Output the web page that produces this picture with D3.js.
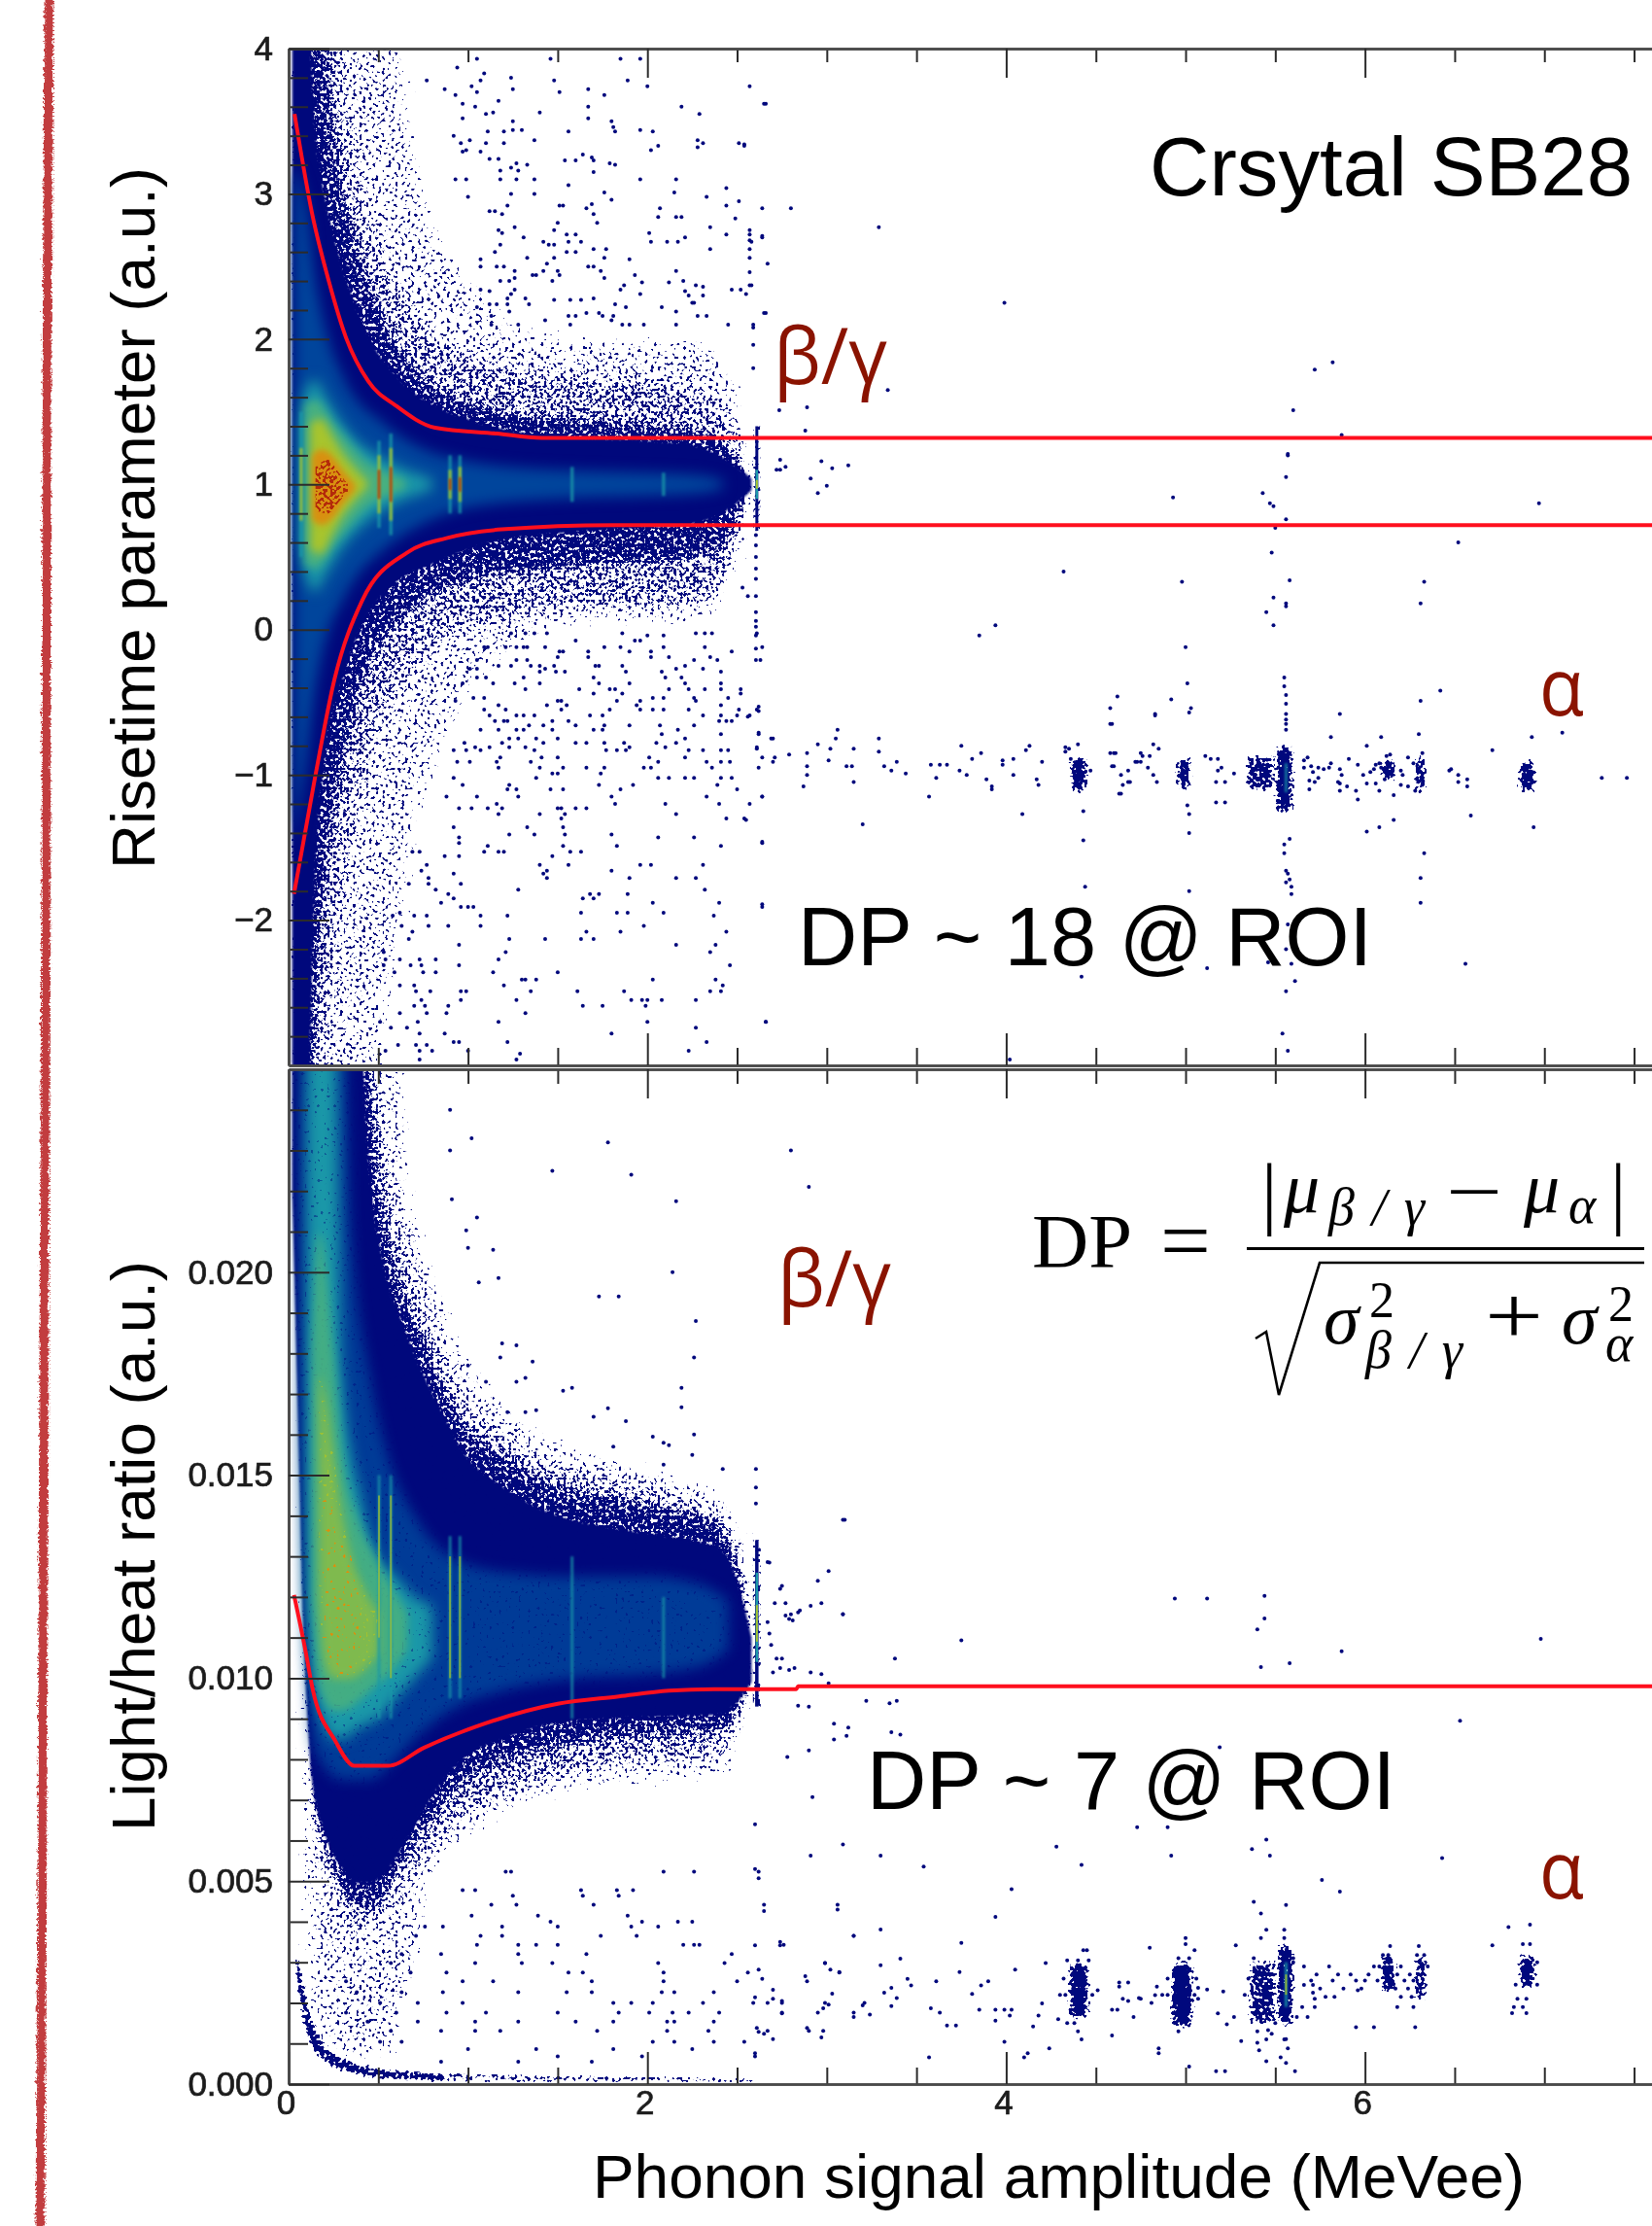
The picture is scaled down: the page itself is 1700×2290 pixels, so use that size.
<!DOCTYPE html>
<html><head><meta charset="utf-8">
<script src="https://cdnjs.cloudflare.com/ajax/libs/d3/7.8.5/d3.min.js"></script>
<style>html,body{margin:0;padding:0;background:#fff}svg{display:block}</style></head>
<body><svg id="c" width="1700" height="2290"></svg>
<script>
// ---- axis labels ----
const xMajor=[0,2,4,6], xMinor=[.5,1,1.5,2.5,3,3.5,4.5,5,5.5,6.5,7,7.5];
const xLabels=["0","2","4","6"];
const uMajor=[4,3,2,1,0,-1,-2];
const uMinor=[3.8,3.6,3.4,3.2,2.8,2.6,2.4,2.2,1.8,1.6,1.4,1.2,.8,.6,.4,.2,-.2,-.4,-.6,-.8,-1.2,-1.4,-1.6,-1.8,-2.2,-2.4,-2.6,-2.8];
const uLabels=["4","3","2","1","0","\u22121","\u22122"];
const lMajor=[0,5,10,15,20];
const lMinor=[1,2,3,4,6,7,8,9,11,12,13,14,16,17,18,19,21,22,23,24];
const lLabels=["0.000","0.005","0.010","0.015","0.020"];

// ---- upper panel: envelopes of the population (x in MeVee) ----
const uX=[.02,.1,.15,.2,.3,.4,.5,.6,.7,.8,1,1.2,1.4,1.8,2.2,2.4,2.5,2.58];
const uSparseTop=[4.4,4.4,4.4,4.4,4.4,4.4,4.4,4.4,3.6,3,2.5,2.2,2.08,2.05,2.05,2,1.8,1.4];
const uSparseBot=[-3.4,-3.4,-3.4,-3.4,-3.4,-3.4,-3.4,-2.6,-1.7,-1.2,-.5,-.25,-.05,0,0,.05,.3,.7];
const uMedTop=[4.4,4.4,4.4,4.4,4.4,3.4,2.8,2.5,2.25,2.1,1.95,1.88,1.85,1.8,1.75,1.65,1.5,1.2];
const uMedBot=[-3.4,-3.4,-3.4,-3.4,-2.4,-1.4,-.9,-.55,-.35,-.2,-.05,0,.05,.1,.12,.2,.4,.8];
const uDenseTop=[4.4,4.4,4.4,4.4,3.2,2.7,2.3,2.05,1.85,1.72,1.6,1.54,1.5,1.46,1.42,1.35,1.25,1.1];
const uDenseBot=[-3.4,-3.4,-3.4,-2.2,-1.1,-.55,-.2,0,.1,.2,.3,.35,.38,.42,.45,.52,.65,.9];
const uSolidTop=[4.4,4.4,3.4,3,2.5,2.15,1.9,1.75,1.63,1.55,1.45,1.38,1.34,1.31,1.28,1.2,1.12,1.04];
const uSolidBot=[-3.4,-3.4,-1.6,-.9,-.35,0,.2,.33,.4,.45,.55,.62,.65,.69,.72,.79,.87,.96];
const uBlueX=[.03,.1,.15,.2,.3,.4,.5,.6,.8,1,1.5,2,2.3,2.42];
const uBlueTop=[3.2,2.9,2.4,2.1,1.75,1.55,1.45,1.35,1.22,1.16,1.1,1.08,1.06,1.03];
const uBlueBot=[-1.5,-.9,-.4,-.1,.2,.4,.52,.62,.76,.84,.9,.92,.94,.97];
const uTealX=[.06,.1,.15,.2,.3,.4,.5,.6,.7,.8];
const uTealTop=[1.4,1.67,1.72,1.62,1.42,1.28,1.2,1.13,1.08,1.04];
const uTealBot=[.6,.34,.26,.36,.56,.7,.8,.87,.92,.96];
const uGreenX=[.09,.15,.25,.35,.45,.55,.65];
const uGreenTop=[1.55,1.58,1.42,1.27,1.14,1.08,1.03];
const uGreenBot=[.45,.42,.58,.73,.86,.92,.97];
const uYellowX=[.12,.18,.25,.3,.35,.4,.44];
const uYellowTop=[1.42,1.45,1.32,1.22,1.14,1.07,1.02];
const uYellowBot=[.55,.52,.67,.78,.86,.93,.98];
const uOrangeX=[.13,.18,.24,.3,.37];
const uOrangeTop=[1.2,1.24,1.2,1.1,1];
const uOrangeBot=[.76,.72,.76,.86,.96];
const uRedX=[.15,.22,.28,.33];
const uRedTop=[1.12,1.17,1.08,1];
const uRedBot=[.82,.8,.88,.95];

// ---- spectral lines (x, half heights of the teal / yellow / red parts) ----
const lineX=[.07,.504,.57,.9,.955,1.58,2.09];
const uLineTeal=[.5,.3,.35,.2,.2,.12,.08];
const uLineYellow=[.25,.2,.25,.1,.12,0,0];
const uLineRed=[0,.1,.12,.04,.05,0,0];
const gammaX=2.61;
const uGammaNavy=[1.4,.68], uGammaTeal=[1.1,.9], uGammaYellow=[1.03,.97];

// ---- red cut lines ----
const uCutTopX=[.033,.13,.226,.32,.444,.6,.816,1.16,1.41,7.6];
const uCutTopY=[3.55,2.87,2.39,2.01,1.71,1.54,1.39,1.35,1.32,1.32];
const uCutBotX=[.03,.147,.256,.41,.66,.88,1.19,1.81,7.6];
const uCutBotY=[-1.82,-1.02,-.34,.2,.53,.63,.69,.72,.72];
const lCutX=[.03,.096,.134,.258,.367,.553,.756,1.035,1.5,1.84,2.12,2.37,2.83,2.84,7.6];
const lCutY=[12.05,10.63,9.73,8.47,7.84,7.84,8.29,8.79,9.37,9.55,9.69,9.73,9.73,9.8,9.8];

// ---- alpha cluster cores [x0,x1,y0,y1] ----
const uCoresDense=[[4.36,4.45,-1.12,-.87],[4.95,5.03,-1.1,-.87],[5.5,5.6,-1.26,-.8],[6.09,6.17,-1.04,-.89],[6.28,6.34,-1.12,-.87],[6.86,6.95,-1.12,-.9]];
const uCoresMed=[[5.33,5.5,-1.12,-.86]];
const lCoresDense=[[4.35,4.46,1.6,3],[4.92,5.04,1.4,3],[5.51,5.6,1.45,3.45],[6.09,6.17,2.25,3.2],[6.28,6.34,2.05,3.2],[6.86,6.95,2.35,3.2]];
const lCoresMed=[[5.35,5.51,1.45,3.05]];

// ---- individual events, upper panel: rows of [y, x, x, ...] ----
const uRows=[
[3.93,1.05,1.46,1.85,1.96],[3.87,.94],[3.83,1.09],[3.8,1.24],[3.78,1.07,1.48,1.89,.77],[3.74,1.02,2,2.57],[3.72,1.25,1.67,.87],[3.7,1.05,1.51],[3.68,1.76,.93],[3.64,1.17],[3.62,.97,2.66,2.65],[3.6,2.19,1.04,1.67],[3.56,1.14,1.4],[3.55,1.1,2.29],[3.52,1.67,.97],[3.5,1.25,1.8],[3.46,1.81],[3.44,1.25,1.3,1.96],[3.43,1.11,1.2,1.56,1.82,2.03],[3.4,.92],[3.37,2.28,1.01,1.37],[3.35,.96,1.1,1.2,2.31,2.51],[3.34,2.54],[3.33,2.06,2.54],[3.32,2.28],[3.3,2.02,.99],[3.29,1.07,.97],[3.27,1.64],[3.25,1.69],[3.24,1.12,1.17],[3.23,1.54,1.6,1.7],[3.21,1.27,1.79],[3.2,1.33,1.82],[3.18,1.24],[3.16,1.18,1.28],[3.15,1.7],[3.1,1.18,1.27,1.37,1.96,2.16,.93,.99],[3.06,1.56],[3.04,2.44],[3.01,1.76,2.15],[3,1.24,1.37],[2.98,1,2.33],[2.96,1.8],[2.95,2.51],[2.93,1.69],[2.92,1.51,1.53,2.44,1.22],[2.9,1.66,2.07,2.64,2.8],[2.88,1.12,1.15],[2.86,1.19,1.7],[2.84,2.06,2.16,2.19],[2.83,2.49],[2.8,1.5,1.72],[2.77,1.26,2.35,3.29],[2.75,1.17,1.48,2.57],[2.73,1.19,2.01],[2.72,1.55,1.6,2.57,2.44],[2.71,2.64],[2.7,1.31,2.21,2.64],[2.68,2.57],[2.67,1.42,1.56,1.63,2.11,2.02,2.17,2.58],[2.65,1.18,1.48,1.45],[2.62,1.7,1.77,2.35,2.57],[2.6,1.15,1.55,1.6],[2.56,1.33,1.48,1.76,2.57],[2.55,1.07,1.9],[2.52,1.44,2.67],[2.5,1.07,1.16,1.67,1.7,1.2],[2.47,1.26,1.42,1.5,1.74,2.16],[2.46,2.57],[2.44,1.36,1.51,1.93,1.38],[2.42,1.76,1.26],[2.4,1.18,1.47,1.23,2.2],[2.39,1.97,2.12],[2.37,1.87,2.58,2.27,2.57],[2.36,2.31],[2.34,1.07,1.85,2.47,2.52,1.26],[2.33,1.12,2.21],[2.31,1.96,2.55,1.24],[2.3,2.23,2.31],[2.28,1.7,1.22,1.32],[2.27,1.48,1.57,1.63],[2.25,2.25,2.26,3.99],[2.24,1.12,1.16,1.34,1.82,1.22],[2.22,1.88,2.08,1.05],[2.19,2.16,1.23],[2.18,2.66,1.73,1.66,2.65],[2.16,1.56,2.28,2.33,1.6,1.13,1.75,1.81],[2.13,1.43,1.8],[2.1,1.13,1.86,1.9,1.98,2.16,2.45,2.59,1.57,1.28],[2.08,2.59],[1.96,2.59],[1.84,5.82],[1.8,2.59],[1.79,5.72],[1.65,3.34],[1.53,2.89],[1.51,2.735,5.6],[1.37,2.88],[1.34,5.87],[1.21,5.57],[1.2,5.57],[1.17,2.74],[1.16,2.97],[1.13,3.12],[1.12,2.77],[1.11,3.03],[1.1,2.74,2.72],[1.05,5.56],[1.04,2.91],[.99,3],[.94,2.95,5.43],[.91,4.93],[.87,5.47,6.97],[.85,5.49],[.76,5.56],[.7,5.5],
[.65,2.605],[.6,6.52],[.58,2.605],[.53,5.48],[.5,2.605],[.42,2.605],[.4,4.32],[.35,2.605],[.34,5.58],[.33,4.98,6.33],[.29,2.53],[.23,2.605,2.56],[.22,5.49],[.18,5.56,6.31],[.16,5.56],[.12,2.605,5.45],[.06,2.605],[.03,3.94,5.49],[.02,2.605],[-.04,2.605,3.85],[-.12,5],[-.13,2.605],
[-.025,1.24,1.32,1.37,1.44,1.86,2.27,2.32,2.36,2.61],[-.076,1.6,1.96,1.93],[-.04,2,2.09],[-.12,1.09,1.11,1.21,1.27,1.31,1.33,1.43,1.76,1.85,2.09,2.32,2.64],[-.15,1.67,2.02,1.53,1.9,2.47,1.51],[-.19,1.5,1.67,2.35,2.02,2.12],[-.21,1.05,2.26,2.39,2.63,1.27,1.33,2.605],[-.25,1.17,1.24,1.35,1.4,1.48,1.71,1.73,1.86,2.21],[-.27,1.01,1.05,1.43,2.31,2.16],[-.29,1.4,1.49,1.54,1.88,2.08,2.41],[-.33,1.1,1.05,1.31,1.7,2.1,2.19,5.55],[-.37,1.14,.97,1.26,1.4,1.73,1.9,2.41,2.21,5.01],[-.39,5.55],[-.41,1.32,1.62,1.79,1.82,2.12,2.23,2.32,2.41,2.52],[-.42,6.42],[-.44,1.7,1.86,2.52],[-.45,5.56],[-.46,4.62],[-.47,1.03,1.09,2.09,2.26,2.45,2.03],[-.48,4.92],[-.49,.93,1.96,1.83,1.5,1.52,2.27,6.31],[-.51,5.56],[-.52,1.17,1.44,1.55,1.94,2.41],[-.53,2.62],[-.54,5.03,4.58],[-.55,1.09,1.21,1.52,1.96,2.03,2.09,2.51,2.61,1.79,2.23],[-.56,2.62],[-.57,5.02],[-.58,4.83,5.86,5.56],[-.59,1.12,1.27,1.31,1.37,1.68,1.75,2.31,2.41,2.5,2.57,4.83],[-.6,2.56],[-.62,5.56],[-.63,1.15,1.22,1.2,1.47,1.56,2.4,2.44,2.47],[-.65,4.59,5.56,4.58],[-.66,1.34,1.42,1.6,1.9,1.76,2.26,2.07],[-.69,1.07,1.17,1.27,1.31,1.47,1.7,1.75,2.17,3.06,5.56],[-.71,2.62,7.1],[-.72,2.41,2.62,2.08,6.3],[-.74,5.81,6.09,6.93],[-.75,1.23,1.28,1.38,1.5,2.21,2.7,2.69,3.05,3.29],[-.78,.98,1.19,1.42,1.6,1.66,1.76,1.87,2.05,2.16],[-.79,2.95,4.82,4.4],[-.8,3.75,4.13,6.01],[-.81,1.04,1.12,1.23,1.32,1.9,2.1,2.61,4.33],[-.82,2.61,3.02,3.15,4.85,4.35],[-.83,.92,.99,1.07,1.37,1.77,1.83,1.88,2.31,2.41,2.23,2.45,4.11,6.71],[-.84,3.29,4.33],[-.85,2.89,3.86,4.6,4.61,4.75,4.58,6.32],[-.86,2.79,6.14],[-.87,5.11,4.76,4.8,6.12],[-.88,1.18,1.41,1.5,2.01,2.21,2.64,2.71,5.68,6.24],[-.89,3.81,4.04,5.14,5.18,4.36,5.91],[-.9,3.01,3.98,5.66],[-.91,.94,1.01,1.16,1.35,2.06,2.33,2.41,2.46,2.7,3.39,4.2,4.73,4.72,4.75],[-.92,5.81,6.08,6.27],[-.93,3.58,3.63,3.67,3.98,5.96,6.06],[-.94,2.89,3.11,3.14,3.32,4.6,4.59,5.7],[-.95,1.17,1.53,1.66,1.76,1.98,2.02,2.36,2.62,1.4,4.79,5.2,5.74,5.66,5.8,6.09],[-.96,5.86,6.05,6.48,5.77],[-.97,3.36,3.74,5.18,4.47,4.68,6.47,6.2],[-.98,6.15,6.31,5.71,6.03],[-.99,1.5,1.74,1.47,3.44,5.27],[-1,2.89,3.78,4.04,4.64,4.82,6.52,6.21,5.99,6.13,5.87],[-1.02,.92,1.38,2.06,2.21,2.26,2.41,2.47,2.12,3.61,7.32,7.46,5.74],[-1.03,3.89,4.17,6.57,6.11,6.29],[-1.04,5.69],[-1.05,3.15,4.68,4.84,5.17,5.22,6.52,4.69,5.72,5.85],[-1.06,6.01,6.06,5.86],[-1.07,1.23,1.73,1.92,.97,2.39,4.18,4.65,6.32,6.2],[-1.08,2.87,3.92,6.57,5.9,6.24],[-1.1,1.22,1.27,1.46,1.53,1.85,2.5,3.92,5.69],[-1.11,5.86,5.95,6.08,6.28],[-1.13,4.63,4.64],[-1.14,6.16],[-1.15,.88,1.28,1.8,1.05,2.64,2.33,2.64,3.57],[-1.17,5.96],[-1.19,5.17,5.22],[-1.2,1.16,2.1,1.82,2.4,2.57],[-1.21,5.01],[-1.23,.95,1.02,1.11,1.19,1.5,1.6,1.66,1.52],[-1.25,4.43],[-1.27,1.17,1.4,1.54,2.16,5.02,4.09],[-1.28,6.59],[-1.3,1.52,2.44,2.54],[-1.31,2.55,6.16],[-1.34,3.2],[-1.36,.92,1.33,1.53,6.08,6.94],[-1.39,6.01],[-1.4,5.02],[-1.41,1.23,1.37,1.8,1.54],[-1.43,.95,2.06,2.26],[-1.44,5.58],[-1.45,4.43],[-1.46,2.64],[-1.47,2.64,.95],[-1.48,5.55],[-1.49,1.11,1.53,1.83,2.41],[-1.53,.69,.73,1.09,1.17,1.2,1.57,1.63],[-1.54,5.55,6.33],[-1.56,.87,.95,1.47],[-1.62,.77,1.4,1.56,1.96,2.02,2.31],[-1.66,.74,1.44,1.8,5.56],[-1.68,.92,1.42,5.57],[-1.71,1.44,.78,1.9,2.16,2.27,6.31],[-1.72,5.58],[-1.74,5.56],[-1.75,.67,.96,.78],[-1.77,4.44,5.59],[-1.79,1.28,2.32,.82],[-1.8,5.02],[-1.82,.89,1.68,1.89,1.73,5.59],[-1.85,1.64,1.7,.92],[-1.88,.85,2.03,2.4,6.31],[-1.89,2.64],[-1.91,.96,1,1.03,2.64],[-1.95,.62,2.09,1.63,1.89,1.83],[-1.97,.58,.7,.77,1.07,1.22,2.37],[-2.03,5.57],[-2.04,.89,.63,.78,1.07,1.98],[-2.08,.69,1.66,2.44,1.85],[-2.13,.67,1.23,1.43,1.63,1.7],[-2.17,2.16,2.38,.95],[-2.2,5.56],[-2.22,1.21,2.35,.53],[-2.27,.73,.82,.54,.62,1.17],[-2.29,5.46],[-2.3,5.59,6.56],[-2.31,2.46,.68,.95,.53,.74],[-2.33,5.12],[-2.36,1.14,.82,1.5,.75,.59],[-2.39,4.42],[-2.41,1.3,1.32,1.38,2.03,2.38],[-2.42,5.61],[-2.45,.62,1.2,2.42,.7],[-2.49,1.61,2.35,2.41,.71,.79,.96,.99,1.35,1.87,5.56],[-2.55,1.91,1.97,2,2.08,2.27,.74,.96,1.27],[-2.59,1.64,1.99,.7,.76,.89,1.75],[-2.64,1.32,.88,.77,.62],[-2.7,2,2.66,.72,1.17,.51,2.66],[-2.74,.66,.57,2.27],[-2.78,.73,.87,1.8,5.54],[-2.84,1.22,2.33,.92,.95],[-2.86,.61,.71,.77],[-2.9,2.23,.8,.54,1,.73,5.57],[-2.92,1.29],[-2.96,.73,1.27,4.02]
];

// ---- individual events, lower panel (y in units of 0.001): rows of [y, x, x, ...] ----
const lRows=[
[24,.9],[23.3,1.02],[23.2,1.78],[23,.9,2.8],[22.5,1.47],[22.4,1.91],[22.1,2.9],[21.8,.91],[21.75,2.16],[21.35,1.05],[21.03,.99],[20.6,1],[20.55,1.14],[20,2.14],[19.86,1.17],[19.75,1.06],[19.4,1.73,1.84],[18.8,2.27],[18.25,1.19],[18.2,1.27],[17.9,1.18,2.26],[17.8,1.36],[17.7,1],[17.4,1.32],[17.3,1.27,1.1],[17.15,1.58,2.19],[17.08,1.53],[16.67,2.19],[16.65,1.78],[16.6,1.38],[16.55,1.22,1.32],[16.44,1.7],[16.33,1.88],[16,2.26],[15.95,2.03],[15.8,2.09],[15.74,2.12],[15.7,1.81],[15.5,2.25],[15.26,2.09],[15.15,2.42,2.605],[14.7,2.605],[14.3,2.605],[13.9,3.1,3.09],[12.86,2.67],[12.85,2.68],[12.64,3.01],[12.4,2.95],[12.27,2.75],[12.2,2.74],[12.03,5.44],[11.96,4.94,5.12],[11.85,2.71,2.77,2.97],[11.78,2.91],[11.67,2.85],[11.62,2.84],[11.58,3.09],[11.57,2.8,3.09],[11.54,2.77],[11.47,5.44],[11.46,2.79],[11.42,2.81],[11.38,2.67],[11.2,5.4],[11.1,2.68],[10.97,6.98],[10.93,3.75],[10.82,2.69],[10.66,5.87],[10.48,2.72,2.75,3.38],[10.37,5.58],[10.27,5.42],[10.25,2.74,2.82],[10.2,2.79],[10.14,2.7,2.91],[10.1,2.97],[9.87,3.01],
[9.44,3.22,3.39],[9.38,3.35],[9.32,2.84],[9.3,2.9],[8.95,6.53],[8.88,3.04],[8.78,3.12],[8.67,3.36],[8.61,3.41],[8.58,3.11],[8.49,3.04],[8.3,5.19],[8.22,2.9],[8.06,2.78],[7.07,2.92],[6.4,2.6],[6.33,4.73,4.9],[6.02,5.45],[5.9,3.09],[5.85,4.28],[5.79,5.37],[5.63,2.91,3.3,4.92,5.47],[5.57,6.43],[5.4,4.42],[5.36,3.54],[5.3,2.6],[5.23,2.09,2.26,2.62,1.21,1.24],[5.07,2.62],[5.03,5.76],[4.8,4.03],[4.78,.97,1.04,1.63,1.83,1.92],[4.74,5.86],[4.64,1.25,1.64,1.84],[4.49,5.38],[4.42,1.13,1.27,1.7,3.06,2.65],[4.41,5.56],[4.3,3.06],[4.26,2.65],[4.2,5.42],[4.15,1.02,1.39,1.89],[4.12,3.94],[4,1.46,2.17,2.25,1.97],[3.93,6.92],[3.88,.86,.76,1.19,1.5,2.06,1.91],[3.87,6.8],[3.81,3.3],[3.65,.71,1.07,1.19,3.15,1.74,1.94,3.15],[3.5,2.74],[3.48,3.75],[3.43,1.05,1.28,1.38,1.5,2.2,2.29,2.76,2.26],[3.42,2.6,2.74,6.71,5.28],[3.36,4.8],[3.2,.63,.85,1.28,1.66,2.47],[3.09,3.41],[2.98,.57,1.04,1.3,1.47,2.06,2.99,2.43,2.99,4.22],[2.93,3.3],[2.82,3.02,2.62,4.05],[2.76,3.07,3.74],[2.75,.68,.88,1.56,1.64,2.09,2.56,3.07],[2.66,2.88],[2.59,2.64,3.45],[2.53,.32,.97,1.14,1.69,2.09,2.89,2.5,3.61,3.9],[2.5,4.68,4.63],[2.44,5.66,5.71],[2.43,3.47,3.86],[2.4,4.63,4.84],[2.37,3.36,5.07],[2.33,5.12],[2.32,2.7],[2.31,4.51,5.96],[2.28,5.21],[2.26,.38,.63,.86,1.28,1.55,1.69,2.08,2.15,2.37],[2.25,3.32,5.71],[2.23,3.03],[2.22,3.81],[2.19,4.83],[2.14,2.6],[2.12,3.39,4.74],[2.1,2.7,4.65,4.75,5.07,5.72],[2.05,2.75,4.68],[2,.51,.72,.97,1.81,1.91,2.03,2.31,2.59,2.67,2.75,2.99,3.21,4.81],[1.99,4.2],[1.96,3.01],[1.94,3.2],[1.92,3.36],[1.87,3.58,2.98],[1.83,3.85,3.94,3.99,4.03,4.59,4.62],[1.76,.32,.6,.88,1.1,1.5,1.84,2.01,2.14,2.23,2.4,2.75,3.15,2.95,3.63],[1.74,2.75,5.18],[1.71,3.24],[1.69,4.02,4.18],[1.65,3.15,4.71,5.27],[1.6,4.29],[1.56,3.94],[1.54,.44,.72,1.04,1.28,1.6,1.81,2.11,2.37,2.15],[1.47,5.23],[1.44,3.67,3.72],[1.42,4.15],[1.38,2.89,2.61],[1.33,5.46],[1.31,.57,.85,1.04,1.18,1.72,2.11,2.34,2.67,2.9,2.98],[1.29,2.62],[1.24,2.65,5.48],[1.2,4.59],[1.15,2.97],[1.11,2.7,5.56],[1.06,5.31],[1.04,.63,.51,2.03,2.15,2.37,2.54,3.99],[1.02,5.4],[.88,4.24,4.85,5.57],[.86,1.38,1,2.25,1.81],[.83,5.41],[.76,2.6,4.12,4.85],[.68,1.97,1.5,2.6],[.66,3.57,4.1,5.53],[.56,5.45],[.55,.85,1.28,1.69],[.52,5.56],[.43,5.02],[.32,5.17,5.22,5.61],
[3.18,6.1,6.13,6.29,6.33],[3.4,6.14,6.3],[2.9,5.66,5.8,6.05,6.08,6.2,6.35],[2.7,5.73,5.85,5.92,6.02,6.18,6.25],[2.55,5.7,5.82,5.95,6,6.07,6.22,6.27],[2.35,5.75,5.88,5.98,6.17,6.24],[2.15,5.78,5.83,6.2,6.26],[1.9,5.65,5.72,6.18,6.27],[1.65,5.68,5.62],[1.4,5.95,6.05,6.28],[3.05,4.34,4.4,4.46],[3.3,4.43,4.45,5.05],[3.6,5.42,5.55],[3.8,5.55,5.45],[1.5,4.38,4.34,4.94,5.5],[1.3,4.4,4.96,5.4],[1.1,4.42,5.45,5.55],[2.2,4.3,4.33,4.48,4.87,4.9,5.05,5.33],[2.6,4.32,4.9,5.06,5.35],[3.1,4.96,5.02,5.38,5.6],[3.6,5],[3.45,5,6.88,6.92],[3,5.6,6.96],[2.45,6.84,6.96],[2.1,6.9,6.85],[1.9,6.88,6.83],[1.75,6.82,6.9]
];

// ---- lower panel envelopes ----
const lX=[.02,.04,.06,.08,.1,.13,.2,.3,.38,.45,.54,.63,.72,.85,.97,1.2,1.5,1.8,2.1,2.4,2.5,2.58];
const lSparseTop=[27,27,27,27,27,27,27,27,27,27,27,27,22,20,18.5,17,16,15.6,15.2,14.8,14.3,13.4];
const lSparseBot=[27,6,4,2,1.4,1,.7,.5,.4,.4,.5,.8,2.5,5.2,5.8,6.5,7,7.2,7.3,7.4,7.8,8.8];
const lMedTop=[27,27,27,27,27,27,27,27,27,27,24,22,20.5,18.6,17.3,16.2,15.4,15.1,14.8,14.4,13.7,12.8];
const lMedBot=[27,22,18,12,8,5.5,4.8,3.8,3.6,3.6,3.9,4.5,5,5.7,6.3,6.9,7.4,7.7,7.8,7.9,8.3,9];
const lDenseTop=[27,27,27,27,27,27,27,27,27,27,22,20,19,17.6,16.5,15.6,14.9,14.6,14.3,14,13.2,12];
const lDenseBot=[27,21,17,12,9,6.5,5.6,4.5,4.2,4.2,4.5,5.2,5.8,6.6,7.3,7.8,8.2,8.4,8.5,8.6,8.9,9.5];
const lSolidTop=[27,27,27,27,27,27,27,27,27,22.5,20,18.8,17.8,16.6,15.6,14.7,14,13.7,13.5,13.2,12.4,11];
const lSolidBot=[22,18.5,15,11.5,9.5,7.5,6.2,5.3,4.95,4.95,5.2,5.8,6.5,7.4,8,8.5,8.9,9,9.05,9.1,9.4,9.9];
const lBlueX=[.06,.1,.15,.3,.35,.45,.55,.7,.9,1.2,1.6,2,2.3,2.45];
const lBlueTop=[27,27,27,27,21,17.5,15.5,14,13,12.6,12.5,12.5,12.3,11.9];
const lBlueBot=[16,10.5,8.2,7.5,7.5,7.5,7.8,8.5,9.2,9.7,10,10.1,10.3,10.7];
const lTealX=[.1,.12,.2,.25,.3,.4,.5,.6,.7,.8];
const lTealTop=[24,27,27,27,17.5,14.5,13,12.5,12,11.8];
const lTealBot=[12,10.5,8.8,8.5,8.5,8.8,9,9.5,10,10.5];
const lGreenX=[.13,.17,.25,.3,.38,.48,.58,.66];
const lGreenTop=[18,21,18,15.5,14,13,12.2,11.6];
const lGreenBot=[12,9.8,9.2,9.2,9.4,9.8,10.2,10.7];
const lYellowX=[.17,.2,.25,.3,.35,.42,.5];
const lYellowTop=[17.5,17,15.5,14,13,12.2,11.6];
const lYellowBot=[12,10.4,10,10,10,10.2,10.6];
const lOrangeX=[.19,.25,.3,.35,.4];
const lOrangeTop=[14.5,14.2,13.5,13,12];
const lOrangeBot=[11,10.2,10,10.2,10.8];
const lBackX=[.03,.05,.08,.12,.16,.2,.26,.33,.4,.5,.6,.75,.88];
const lBackTop=[3.6,3.2,2.6,1.75,1.3,1,.75,.6,.5,.4,.35,.3,.25];
const lBackBot=[3,2.3,1.6,.95,.7,.55,.38,.28,.2,.15,.1,.08,.05];
const lBackTailX=[.88,1.2,1.6,2,2.4,2.6];
const lBackTailTop=[.3,.26,.22,.2,.18,.16];
const lBackTailBot=[.04,.04,.04,.04,.04,.04];
const lLineTop=[14,15,15,13.5,13.5,13,12];
const lLineBot=[9.5,9,9,9.5,9.5,9,10];
const lLineYellow=[[0,0],[11,14.5],[10,14.5],[10,13],[10,13],[0,0],[0,0]];
const lGammaNavy=[9.3,13.4], lGammaTeal=[10.4,12.6], lGammaYellow=[10.9,11.8];

// ---- colours ----
const navy="#00087c", blueC="#00459c", tealC="#1a98a8", greenC="#48b080", yellowC="#a8c42c", orangeC="#d89010", redC="#b42a0a", cutC="#ff0f1e", wine="#8a1300";

const W=1700,H=2290;
const svg=d3.select("#c");
const x=d3.scaleLinear().domain([0,7.6]).range([297,1700]);
const yU=d3.scaleLinear().domain([-3,4]).range([1096,50]);
const yL=d3.scaleLinear().domain([0,25]).range([2144,1100]);

// ---- filters ----
const defs=svg.append("defs");
function fbase(id){return defs.append("filter").attr("id",id).attr("filterUnits","userSpaceOnUse").attr("x",0).attr("y",0).attr("width",W).attr("height",H).attr("color-interpolation-filters","sRGB");}
function grain(id,t,seed){
  const f=fbase(id);
  f.append("feTurbulence").attr("type","fractalNoise").attr("baseFrequency",.3).attr("numOctaves",1).attr("seed",seed).attr("result","n");
  f.append("feColorMatrix").attr("in","n").attr("type","matrix").attr("values",`0 0 0 0 0 0 0 0 0 0 0 0 0 0 0 30 0 0 0 ${-30*t}`).attr("result","m");
  f.append("feComposite").attr("in","SourceGraphic").attr("in2","m").attr("operator","in").attr("result","g");
  f.append("feGaussianBlur").attr("in","g").attr("stdDeviation",.5);
}
// speckled navy whose density falls off smoothly across the edge of the drawn shape
function soft(id,sigma,w,seed){
  const f=fbase(id);
  f.append("feGaussianBlur").attr("in","SourceAlpha").attr("stdDeviation",sigma).attr("result","s");
  f.append("feTurbulence").attr("type","fractalNoise").attr("baseFrequency",.3).attr("numOctaves",1).attr("seed",seed).attr("result","n");
  f.append("feColorMatrix").attr("in","n").attr("type","matrix").attr("values","0 0 0 0 0 0 0 0 0 0 0 0 0 0 0 1 0 0 0 0").attr("result","na");
  f.append("feComposite").attr("in","na").attr("in2","s").attr("operator","arithmetic").attr("k1",0).attr("k2",1).attr("k3",w).attr("k4",0).attr("result","sum");
  f.append("feColorMatrix").attr("in","sum").attr("type","matrix").attr("values",`0 0 0 0 0 0 0 0 0 .03 0 0 0 0 .49 0 0 0 30 ${-30*.95}`).attr("result","t");
  f.append("feGaussianBlur").attr("in","t").attr("stdDeviation",.5);
}
grain("gS",.67,3);grain("gM",.6,7);grain("gD",.5,11);grain("gO",.57,5);
soft("sS",13,.35,21);soft("sM",12,.41,22);soft("sD",7,.52,23);soft("sC",5,.74,24);soft("sC2",5,.58,25);soft("sB",2.5,.62,26);soft("sT",1.5,.42,27);
function blur(id,s){fbase(id).append("feGaussianBlur").attr("stdDeviation",s);}
blur("b7",7);blur("b5",5);blur("b3",3);blur("b1",1.1);blur("b06",.6);blur("b03",.35);
const rough=fbase("rough");
rough.append("feTurbulence").attr("type","turbulence").attr("baseFrequency",.25).attr("numOctaves",2).attr("seed",4).attr("result","t");
rough.append("feDisplacementMap").attr("in","SourceGraphic").attr("in2","t").attr("scale",5).attr("xChannelSelector","R").attr("yChannelSelector","G");
defs.append("clipPath").attr("id","cu").append("rect").attr("x",297).attr("y",50).attr("width",1403).attr("height",1046);
defs.append("clipPath").attr("id","cl").append("rect").attr("x",297).attr("y",1100).attr("width",1403).attr("height",1044);

// ---- left hand-drawn margin stroke ----
const borderX=[49,47,46,44,42,40], borderY=[-5,400,900,1400,1900,2295];
svg.append("path").datum(d3.zip(borderX,borderY)).attr("d",d3.line()).attr("fill","none").attr("stroke","#c23d3f").attr("stroke-width",9).attr("filter","url(#rough)");

function band(g,xs,top,bot,y,fill,filt,op){
  const a=d3.area().x((d,i)=>x(xs[i])).y0((d,i)=>y(bot[i])).y1((d,i)=>y(top[i])).curve(d3.curveMonotoneX);
  const p=g.append("path").datum(xs).attr("d",a).attr("fill",fill);
  if(filt)p.attr("filter",`url(#${filt})`);
  if(op)p.attr("opacity",op);
  return p;
}
function rects(g,list,y,fill,filt){
  g.append("g").attr("filter",`url(#${filt})`).selectAll("rect").data(list).join("rect")
   .attr("x",d=>x(d[0])).attr("width",d=>x(d[1])-x(d[0])).attr("y",d=>y(d[3])).attr("height",d=>y(d[2])-y(d[3])).attr("fill",fill);
}
function vbar(g,xv,y0,y1,y,w,fill,filt,op){
  const r=g.append("rect").attr("x",x(xv)-w/2).attr("width",w).attr("y",y(y1)).attr("height",y(y0)-y(y1)).attr("fill",fill);
  if(filt)r.attr("filter",`url(#${filt})`);
  if(op)r.attr("opacity",op);
}
function dots(g,rows,y){
  const pts=rows.flatMap(r=>r.slice(1).map(v=>[v,r[0]]));
  g.append("g").attr("filter","url(#b03)").selectAll("circle").data(pts).join("circle")
   .attr("cx",d=>x(d[0])).attr("cy",d=>y(d[1])).attr("r",2).attr("fill",navy);
}
const redLine=(xs,ys,y)=>d3.line().x((d,i)=>x(xs[i])).y((d,i)=>y(ys[i])).curve(d3.curveMonotoneX)(xs);

// ---- upper panel ----
const u=svg.append("g").attr("clip-path","url(#cu)");
band(u,uX,uSparseTop,uSparseBot,yU,navy,"sS");
band(u,uX,uMedTop,uMedBot,yU,navy,"sM");
band(u,uX,uDenseTop,uDenseBot,yU,navy,"sD");
dots(u,uRows,yU);
rects(u,uCoresMed,yU,navy,"sC2");
rects(u,uCoresDense,yU,navy,"sC");
band(u,uX,uSolidTop,uSolidBot,yU,navy,"b1");
band(u,uBlueX,uBlueTop,uBlueBot,yU,blueC,"b7");
band(u,uTealX,uTealTop,uTealBot,yU,tealC,"b7");
band(u,uGreenX,uGreenTop,uGreenBot,yU,greenC,"b5");
band(u,uYellowX,uYellowTop,uYellowBot,yU,yellowC,"b5");
band(u,uOrangeX,uOrangeTop,uOrangeBot,yU,orangeC,"b3");
band(u,uRedX,uRedTop,uRedBot,yU,redC,"gD");
lineX.forEach((lx,i)=>{
  vbar(u,lx,1-uLineTeal[i],1+uLineTeal[i],yU,3.5,tealC,"b1",.75);
  if(uLineYellow[i]>0)vbar(u,lx,1-uLineYellow[i],1+uLineYellow[i],yU,3,yellowC,"b1",.85);
  if(uLineRed[i]>0)vbar(u,lx,1-uLineRed[i],1+uLineRed[i],yU,2.5,redC,"b1",.85);
});
vbar(u,gammaX,uGammaNavy[1],uGammaNavy[0],yU,7,navy,"gO");
vbar(u,gammaX,uGammaNavy[1],uGammaNavy[0],yU,3,navy,"b06");
vbar(u,gammaX,uGammaTeal[1],uGammaTeal[0],yU,2.5,tealC,"b06");
vbar(u,gammaX,uGammaYellow[1],uGammaYellow[0],yU,2,yellowC,"b06");
vbar(u,5.56,-1.12,-.92,yU,3,tealC,"b1",.7);

// ---- lower panel ----
const l=svg.append("g").attr("clip-path","url(#cl)");
band(l,lX,lSparseTop,lSparseBot,yL,navy,"sS");
band(l,lX,lMedTop,lMedBot,yL,navy,"sM");
band(l,lX,lDenseTop,lDenseBot,yL,navy,"sD");
band(l,lBackX,lBackTop,lBackBot,yL,navy,"sB");
band(l,lBackTailX,lBackTailTop,lBackTailBot,yL,navy,"sT");
dots(l,lRows,yL);
rects(l,lCoresMed,yL,navy,"sC2");
rects(l,lCoresDense,yL,navy,"sC");
band(l,lX,lSolidTop,lSolidBot,yL,navy,"b1");
band(l,lBlueX,lBlueTop,lBlueBot,yL,blueC,"b7",.85);
band(l,lTealX,lTealTop,lTealBot,yL,tealC,"b7");
band(l,lX,lSolidTop,lSolidBot,yL,navy,"gS",.45);
band(l,lGreenX,lGreenTop,lGreenBot,yL,greenC,"b5",.9);
band(l,lYellowX,lYellowTop,lYellowBot,yL,yellowC,"b5",.6);
band(l,lYellowX,lYellowTop,lYellowBot,yL,yellowC,"gS",.8);
band(l,lOrangeX,lOrangeTop,lOrangeBot,yL,orangeC,"gS");
lineX.slice(1).forEach((lx,i)=>{
  vbar(l,lx,lLineBot[i+1],lLineTop[i+1],yL,3,tealC,"b1",.7);
  const yy=lLineYellow[i+1];
  if(yy[1]>0)vbar(l,lx,yy[0],yy[1],yL,2,yellowC,"b06",.7);
});
vbar(l,gammaX,lGammaNavy[0],lGammaNavy[1],yL,8,navy,"gO");
vbar(l,gammaX,lGammaNavy[0],lGammaNavy[1],yL,3.5,navy,"b06");
vbar(l,gammaX,lGammaTeal[0],lGammaTeal[1],yL,2.5,tealC,"b06");
vbar(l,gammaX,lGammaYellow[0],lGammaYellow[1],yL,2,yellowC,"b06");
vbar(l,5.56,1.9,3,yL,3,tealC,"b1",.8);
vbar(l,5.56,2.2,2.7,yL,2,yellowC,"b06",.8);

// ---- cut lines ----
const cuts=svg.append("g").attr("fill","none").attr("stroke",cutC).attr("stroke-width",4);
cuts.append("path").attr("clip-path","url(#cu)").attr("d",redLine(uCutTopX,uCutTopY,yU));
cuts.append("path").attr("clip-path","url(#cu)").attr("d",redLine(uCutBotX,uCutBotY,yU));
cuts.append("path").attr("clip-path","url(#cl)").attr("d",redLine(lCutX,lCutY,yL));

// ---- axes ----
const ax=svg.append("g").attr("filter","url(#b03)");
function style(g,col,w){g.selectAll("line").attr("stroke",col).attr("stroke-width",w);g.selectAll("path.domain").attr("stroke","#4a4a4a").attr("stroke-width",2.6);}
function xAx(gen,y0,vals,size){
  const g=ax.append("g").attr("transform",`translate(0,${y0})`).call(gen(x).tickValues(vals).tickSize(size).tickSizeOuter(0).tickFormat(""));
  style(g,"#2b2b2b",2);
}
[[d3.axisBottom,50],[d3.axisTop,1096],[d3.axisBottom,1100],[d3.axisTop,2144]].forEach(([gen,y0],i)=>{
  const minor=[14,18,15,17][i], major=[30,33,30,33][i];
  xAx(gen,y0,xMinor,minor);xAx(gen,y0,xMajor,major);
});
const labelLayer=svg.append("g").attr("filter","url(#b06)");
function labelStyle(g){
  g.selectAll("text").style("font-family","'Liberation Sans'").style("font-size","35px").attr("fill","#1c1c1c").attr("stroke","#1c1c1c").attr("stroke-width",.7);
}
function yAx(y,major,minor,labels){
  let g=ax.append("g").attr("transform","translate(297,0)").call(d3.axisRight(y).tickValues(minor).tickSize(20).tickSizeOuter(0).tickFormat(""));style(g,"#2b2b2b",2);
  g=ax.append("g").attr("transform","translate(297,0)").call(d3.axisRight(y).tickValues(major).tickSize(42).tickSizeOuter(0).tickFormat(""));style(g,"#2b2b2b",2);
  g=labelLayer.append("g").attr("transform","translate(297,0)").call(d3.axisLeft(y).tickValues(major).tickSize(0).tickPadding(16).tickFormat((d,i)=>labels[i]));
  g.select(".domain").remove();
  labelStyle(g);
}
yAx(yU,uMajor,uMinor,uLabels);
yAx(yL,lMajor,lMinor,lLabels);
const xl=labelLayer.append("g").attr("transform","translate(-3,2144)").call(d3.axisBottom(x).tickValues(xMajor).tickSize(0).tickPadding(6).tickFormat((d,i)=>xLabels[i]));
xl.select(".domain").remove();
labelStyle(xl);

// ---- titles & annotations ----
const sans="'Liberation Sans'";
function T(s,px,py,size,o={}){
  const t=svg.append("text").attr("x",px).attr("y",py).attr("font-size",size).attr("font-family",o.font||sans).attr("fill",o.fill||"#000").text(s);
  if(o.len)t.attr("textLength",o.len).attr("lengthAdjust",o.adj||"spacingAndGlyphs");
  if(o.italic)t.attr("font-style","italic");
  if(o.rot)t.attr("transform",`rotate(${o.rot} ${px} ${py})`);
  return t;
}
T("Risetime parameter (a.u.)",159,894,63,{rot:-90,len:722});
T("Light/heat ratio (a.u.)",159,1884,63,{rot:-90,len:587});
T("Phonon signal amplitude (MeVee)",610,2261,63,{len:959});
T("Crsytal SB28",1183,201,85,{len:497});
T("DP ~ 18 @ ROI",821,993,85,{len:591});
T("DP ~ 7 @ ROI",892,1861,85,{len:544});
const greek="'Open Sans'";
T("\u03b2/\u03b3",796,395,80,{font:greek,fill:wine,len:117});
T("\u03b2/\u03b3",800,1344,80,{font:greek,fill:wine,len:117});
T("\u03b1",1584,736,82,{font:greek,fill:wine,len:46});
T("\u03b1",1584,1953,82,{font:greek,fill:wine,len:46});

// ---- formula ----
const serif="'Liberation Serif'";
T("DP",1062,1303,78,{font:serif,len:103});
T("=",1194,1307,92,{font:serif});
svg.append("rect").attr("x",1283).attr("y",1283).attr("width",409).attr("height",3).attr("fill","#000");
const radicalX=[1292,1303,1316,1358,1692], radicalY=[1377,1370,1435,1299,1299];
svg.append("path").datum(d3.zip(radicalX,radicalY)).attr("d",d3.line()).attr("fill","none").attr("stroke","#000").attr("stroke-width",2.6);
T("|",1298,1254,82,{font:serif});
T("\u03bc",1321,1247,74,{font:serif,italic:1});
T("\u03b2/\u03b3",1367,1260,54,{font:serif,italic:1,len:99,adj:"spacing"});
T("\u2212",1488,1250,72,{font:serif,len:58});
T("\u03bc",1568,1247,74,{font:serif,italic:1});
T("\u03b1",1614,1258,54,{font:serif,italic:1});
T("|",1657,1254,82,{font:serif});
T("\u03c3",1362,1382,74,{font:serif,italic:1});
T("2",1409,1355,52,{font:serif});
T("\u03b2/\u03b3",1405,1407,54,{font:serif,italic:1,len:100,adj:"spacing"});
T("+",1528,1382,84,{font:serif,len:60});
T("\u03c3",1607,1382,74,{font:serif,italic:1});
T("2",1655,1359,52,{font:serif});
T("\u03b1",1652,1400,54,{font:serif,italic:1});
</script></body></html>
